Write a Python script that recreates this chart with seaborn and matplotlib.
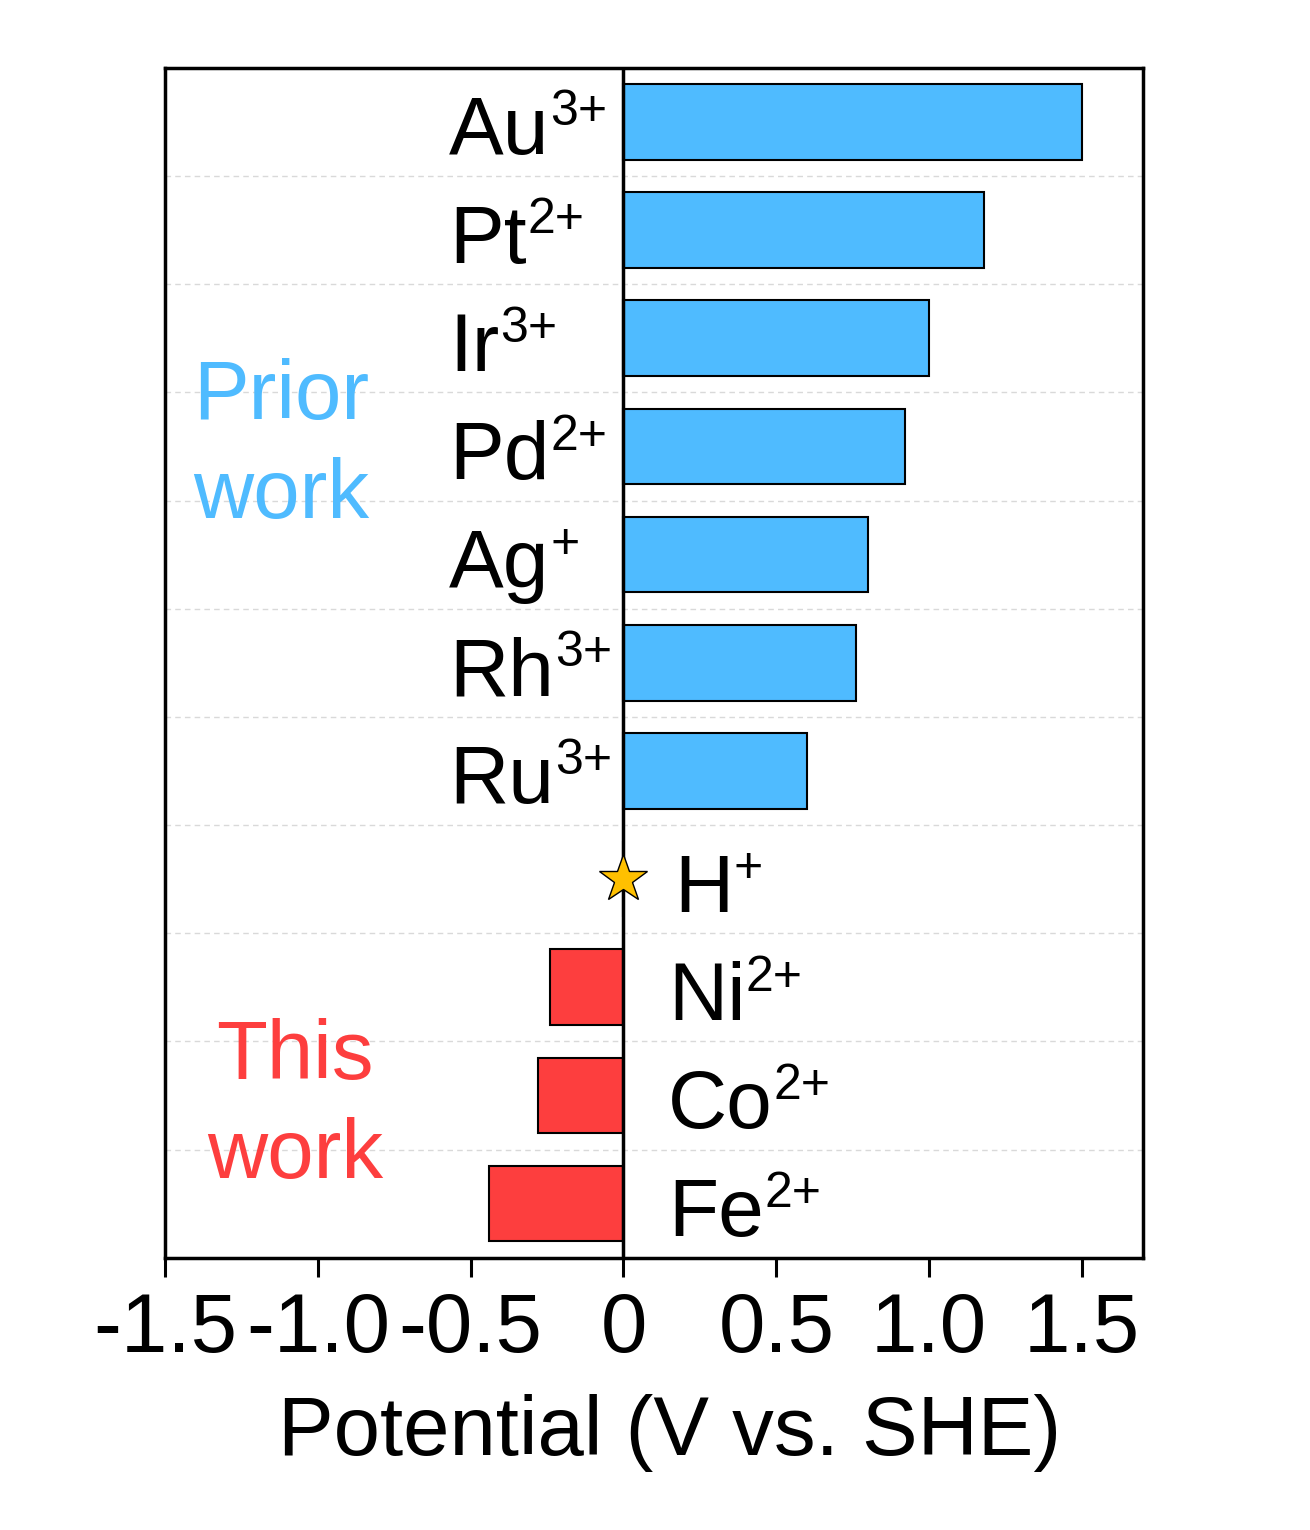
import numpy as np
import pandas as pd
import seaborn as sns
from matplotlib import pyplot as plt

# donnees (V vs. SHE)
ions = ["Au", "Pt", "Ir", "Pd", "Ag", "Rh", "Ru", "H", "Ni", "Co", "Fe"]
charges = ["3+", "2+", "3+", "2+", "+", "3+", "3+", "+", "2+", "2+", "2+"]
potentials = [1.50, 1.18, 1.00, 0.92, 0.80, 0.76, 0.60, 0.0, -0.24, -0.28, -0.44]
groups = ["prior"] * 7 + ["ref"] + ["this"] * 3

blue = "#4FBBFF"
red = "#FD3E3E"
colors = {"prior": blue, "ref": "white", "this": red}

sns.set_theme(style="white")
plt.rcParams['font.family'] = ['Liberation Sans', 'DejaVu Sans']
plt.rcParams['text.color'] = 'black'

df = pd.DataFrame({"ion": ions, "E": potentials, "group": groups})

fig = plt.figure(figsize=(13.1, 15.3), dpi=100)
ax = fig.add_axes([0.126, 0.178, 0.7465, 0.7776])

# lignes pointillees entre les rangees
for i in range(len(ions) - 1):
    ax.axhline(i + 0.5, color="#d9d9d9", lw=1, ls=(0, (4, 3)), zorder=0)

sns.barplot(data=df, x="E", y="ion", hue="group", palette=colors, orient="h",
            width=0.7, edgecolor="black", linewidth=1.5, dodge=False,
            saturation=1, legend=False, ax=ax, zorder=2)

ax.axvline(0, color="black", lw=2.5, zorder=3)

# etoile pour H+
h = ions.index("H")
ax.plot(0, h, marker="*", ms=36, color="#FFC000", mec="black", mew=1, zorder=4)

ax.set_xlim(-1.5, 1.7)
ax.set_ylim(len(ions) - 0.5, -0.5)

# libelles des ions (alignes a gauche), exposant dessine a part
labels = []
for i, (ion, e) in enumerate(zip(ions, potentials)):
    if e > 0:
        x = -0.57
    elif ion == "H":
        x = 0.165
    else:
        x = 0.145
    t = ax.text(x, i + 0.3, ion, ha="left", va="baseline", fontsize=59, color="black")
    labels.append(t)

fig.canvas.draw()
renderer = fig.canvas.get_renderer()
for i, (t, ch) in enumerate(zip(labels, charges)):
    bb = t.get_window_extent(renderer)
    x1 = ax.transData.inverted().transform((bb.x1, 0))[0]
    ax.annotate(ch, xy=(x1, i + 0.3), xytext=(0.5, 21), textcoords="offset points",
                ha="left", va="baseline", fontsize=36, color="black")

ax.text(-1.12, 3.0, "Prior\nwork", color=blue, ha="center", va="center",
        fontsize=60, linespacing=1.35)
ax.text(-1.075, 9.1, "This\nwork", color=red, ha="center", va="center",
        fontsize=60, linespacing=1.35)

ticks = [-1.5, -1.0, -0.5, 0, 0.5, 1.0, 1.5]
ax.set_xticks(ticks)
ax.set_xticklabels(["-1.5", "-1.0", "-0.5", "0", "0.5", "1.0", "1.5"])
ax.set_yticks([])
ax.set_ylabel("")
ax.set_xlabel("Potential (V vs. SHE)", fontsize=60, color="black")
ax.xaxis.set_label_coords(0.516, -0.115)
ax.tick_params(axis="x", direction="out", length=14, width=2.2,
               labelsize=60, pad=10, bottom=True, colors="black")
for sp in ax.spines.values():
    sp.set_color("black")
    sp.set_linewidth(2.5)

fig.savefig("out.png", dpi=100)
